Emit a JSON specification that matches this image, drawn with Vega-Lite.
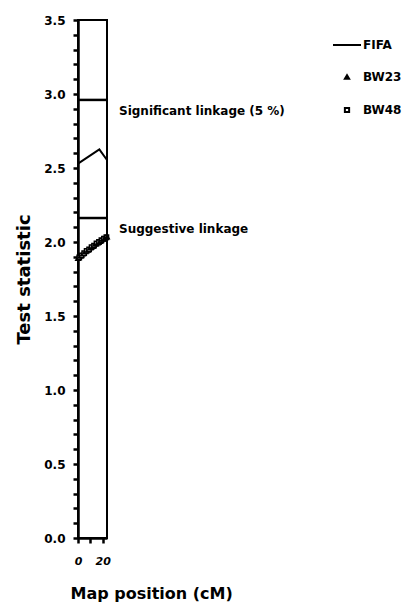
{
  "$schema": "https://vega.github.io/schema/vega-lite/v6.json",
  "width": 29,
  "height": 518,
  "autosize": {"type": "none"},
  "padding": {"left": 78, "top": 20, "right": 304, "bottom": 65},
  "background": "white",
  "config": {
    "font": "DejaVu Sans",
    "view": {"stroke": "black", "strokeWidth": 2},
    "axis": {
      "grid": false,
      "domainColor": "black",
      "domainWidth": 2.5,
      "tickColor": "black",
      "tickWidth": 2.5,
      "tickSize": 5,
      "tickCount": 100,
      "labelColor": "black",
      "labelFont": "DejaVu Sans",
      "labelFontWeight": "bold",
      "labelOverlap": false,
      "labelFlush": false,
      "titleColor": "black",
      "titleFont": "DejaVu Sans",
      "titleFontWeight": "bold"
    }
  },
  "datasets": {
    "fifa": [
      {"pos": 0, "stat": 2.53},
      {"pos": 17.3, "stat": 2.626},
      {"pos": 23.5, "stat": 2.554}
    ],
    "thresholds": [
      {"label": "Significant linkage (5 %)", "stat": 2.96},
      {"label": "Suggestive linkage", "stat": 2.162}
    ],
    "markers": [
      {"series": "BW23", "pos": 0, "stat": 1.89},
      {"series": "BW48", "pos": 1, "stat": 1.895},
      {"series": "BW23", "pos": 2, "stat": 1.905},
      {"series": "BW48", "pos": 3, "stat": 1.91},
      {"series": "BW23", "pos": 4, "stat": 1.92},
      {"series": "BW48", "pos": 5, "stat": 1.925},
      {"series": "BW23", "pos": 6, "stat": 1.935},
      {"series": "BW48", "pos": 7, "stat": 1.94},
      {"series": "BW23", "pos": 8, "stat": 1.945},
      {"series": "BW48", "pos": 9, "stat": 1.95},
      {"series": "BW23", "pos": 10, "stat": 1.96},
      {"series": "BW48", "pos": 11, "stat": 1.965},
      {"series": "BW23", "pos": 12, "stat": 1.97},
      {"series": "BW48", "pos": 13, "stat": 1.975},
      {"series": "BW23", "pos": 14, "stat": 1.985},
      {"series": "BW48", "pos": 15, "stat": 1.99},
      {"series": "BW23", "pos": 16, "stat": 1.995},
      {"series": "BW48", "pos": 17, "stat": 2.0},
      {"series": "BW23", "pos": 18, "stat": 2.005},
      {"series": "BW48", "pos": 19, "stat": 2.012},
      {"series": "BW23", "pos": 20, "stat": 2.02},
      {"series": "BW48", "pos": 21, "stat": 2.022},
      {"series": "BW23", "pos": 22, "stat": 2.03},
      {"series": "BW48", "pos": 23, "stat": 2.032},
      {"series": "BW23", "pos": 23.5, "stat": 2.035}
    ]
  },
  "layer": [
    {
      "data": {"name": "fifa"},
      "mark": {"type": "line", "color": "black", "strokeWidth": 2},
      "encoding": {
        "x": {
          "field": "pos",
          "type": "quantitative",
          "scale": {"domain": [0, 23.5], "nice": false, "zero": false},
          "axis": {
            "title": "Map position (cM)",
            "values": [0, 10, 20],
            "labelExpr": "datum.value == 10 ? '' : format(datum.value, 'd')",
            "labelFontStyle": "italic",
            "labelFontSize": 11,
            "labelPadding": 12,
            "titleFontSize": 16,
            "titleAlign": "left",
            "titleBaseline": "middle",
            "titleX": -8,
            "titleY": 55
          }
        },
        "y": {
          "field": "stat",
          "type": "quantitative",
          "scale": {"domain": [0, 3.5], "nice": false, "zero": true},
          "axis": {
            "title": "Test statistic",
            "values": [0, 0.1, 0.2, 0.3, 0.4, 0.5, 0.6, 0.7, 0.8, 0.9, 1.0, 1.1, 1.2, 1.3, 1.4, 1.5, 1.6, 1.7, 1.8, 1.9, 2.0, 2.1, 2.2, 2.3, 2.4, 2.5, 2.6, 2.7, 2.8, 2.9, 3.0, 3.1, 3.2, 3.3, 3.4, 3.5],
            "labelExpr": "round(datum.value * 10) % 5 == 0 ? format(datum.value, '.1f') : ''",
            "labelFontSize": 12,
            "labelPadding": 8,
            "titleFontSize": 18,
            "titleBaseline": "middle",
            "titleX": -54
          }
        }
      }
    },
    {
      "data": {"name": "thresholds"},
      "mark": {"type": "rule", "color": "black", "strokeWidth": 2.5},
      "encoding": {
        "y": {"field": "stat", "type": "quantitative"}
      }
    },
    {
      "data": {"name": "thresholds"},
      "mark": {
        "type": "text",
        "x": "width",
        "dx": 12,
        "dy": 11,
        "align": "left",
        "baseline": "middle",
        "font": "DejaVu Sans",
        "fontWeight": "bold",
        "fontSize": 12,
        "color": "black"
      },
      "encoding": {
        "y": {"field": "stat", "type": "quantitative"},
        "text": {"field": "label"}
      }
    },
    {
      "data": {"name": "markers"},
      "mark": {"type": "point", "filled": false, "stroke": "black", "strokeWidth": 1.6, "opacity": 1},
      "encoding": {
        "x": {"field": "pos", "type": "quantitative"},
        "y": {"field": "stat", "type": "quantitative"},
        "shape": {
          "field": "series",
          "type": "nominal",
          "scale": {"domain": ["FIFA", "BW23", "BW48"], "range": ["stroke", "triangle-up", "square"]},
          "legend": {
            "title": null,
            "orient": "none",
            "legendX": 254,
            "legendY": 10,
            "padding": 0,
            "labelFont": "DejaVu Sans",
            "labelFontWeight": "bold",
            "labelFontSize": 12,
            "labelColor": "black",
            "labelOffset": 1,
            "symbolStrokeColor": "black",
            "symbolStrokeWidth": 2,
            "rowPadding": 20
          }
        },
        "fill": {
          "field": "series",
          "type": "nominal",
          "scale": {"domain": ["FIFA", "BW23", "BW48"], "range": ["black", "black", "white"]}
        },
        "size": {
          "field": "series",
          "type": "nominal",
          "scale": {"type": "ordinal", "domain": ["FIFA", "BW23", "BW48"], "range": [784, 18, 18]}
        }
      }
    }
  ]
}
